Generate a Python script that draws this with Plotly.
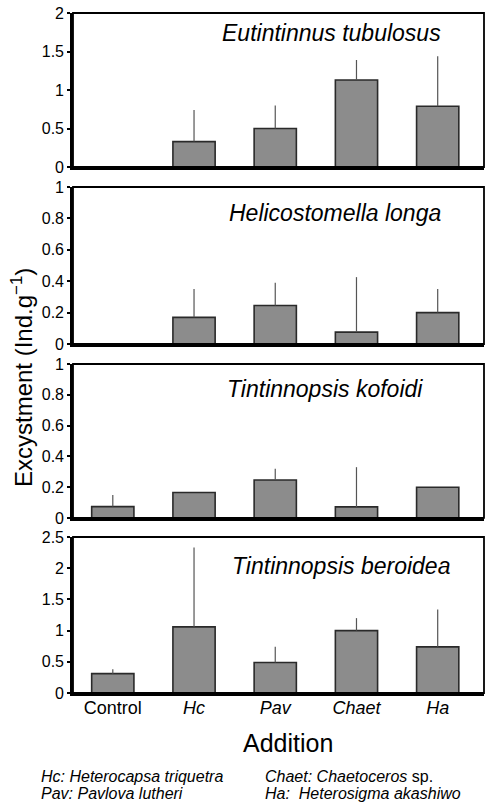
import plotly.graph_objects as go

categories = ["Control", "Hc", "Pav", "Chaet", "Ha"]
tick_labels = ["Control", "<i>Hc</i>", "<i>Pav</i>", "<i>Chaet</i>", "<i>Ha</i>"]
species = ["Eutintinnus tubulosus", "Helicostomella longa",
           "Tintinnopsis kofoidi", "Tintinnopsis beroidea"]

e_tubulosus_mean = [0.0, 0.33, 0.50, 1.13, 0.79]
e_tubulosus_err = [0.0, 0.41, 0.30, 0.26, 0.65]
h_longa_mean = [0.0, 0.17, 0.245, 0.076, 0.20]
h_longa_err = [0.0, 0.18, 0.145, 0.35, 0.15]
t_kofoidi_mean = [0.074, 0.165, 0.247, 0.072, 0.20]
t_kofoidi_err = [0.076, 0.0, 0.073, 0.258, 0.0]
t_beroidea_mean = [0.31, 1.06, 0.49, 1.00, 0.74]
t_beroidea_err = [0.07, 1.27, 0.25, 0.20, 0.60]

means = [e_tubulosus_mean, h_longa_mean, t_kofoidi_mean, t_beroidea_mean]
errs = [e_tubulosus_err, h_longa_err, t_kofoidi_err, t_beroidea_err]
y_ranges = [[0, 2], [0, 1], [0, 1], [0, 2.5]]
y_dtick = [0.5, 0.2, 0.2, 0.5]
domains = [[0.7735, 1.0], [0.5132, 0.7441], [0.2574, 0.4838], [0.0, 0.2294]]
title_pos = [(0.900, 0.9706), (0.900, 0.7059), (0.856, 0.447), (0.922, 0.1868)]

FONT = "Liberation Sans, Arial, Helvetica, sans-serif"

fig = go.Figure()
layout = dict(
    width=488, height=804,
    margin=dict(l=73, r=4, t=13, b=111, autoexpand=False),
    paper_bgcolor="white", plot_bgcolor="white",
    showlegend=False, font=dict(family=FONT, color="black"),
)
shapes = []
annotations = []
for i in range(4):
    n = "" if i == 0 else str(i + 1)
    xa = "x" + n
    ya = "y" + n
    fig.add_trace(go.Bar(
        x=list(range(len(categories))), y=means[i],
        xaxis=xa, yaxis=ya, width=0.52,
        marker=dict(color="#8c8c8c", line=dict(color="#2a2a2a", width=1.6)),
        error_y=dict(type="data", array=errs[i], arrayminus=[0] * 5,
                     symmetric=False, color="#555555", thickness=1.2, width=0),
    ))
    layout["xaxis" + n] = dict(
        domain=[0, 1], anchor=ya, range=[-0.49, 4.57], automargin=False,
        tickmode="array", tickvals=list(range(5)),
        ticktext=tick_labels if i == 3 else [""] * 5,
        showticklabels=(i == 3), ticks="", showgrid=False, zeroline=False,
        showline=True, linecolor="black", linewidth=2.6,
        tickfont=dict(size=18, family=FONT), ticklabelstandoff=-3,
    )
    layout["yaxis" + n] = dict(
        domain=domains[i], anchor=xa, range=y_ranges[i], dtick=y_dtick[i],
        tick0=0, showgrid=False, zeroline=False, automargin=False,
        showline=True, linecolor="black", linewidth=2.6,
        ticks="outside", ticklen=3, tickwidth=1.5, tickcolor="black",
        tickfont=dict(size=16, family=FONT),
    )
    shapes.append(dict(type="rect", xref=xa + " domain", yref=ya + " domain",
                       x0=0, x1=1, y0=0, y1=1, line=dict(color="black", width=1.8)))
    tx, ty = title_pos[i]
    annotations.append(dict(text="<i>" + species[i] + "</i>", xref="paper", yref="paper",
                            x=tx, y=ty, xanchor="right", yanchor="middle",
                            showarrow=False, font=dict(size=23, family=FONT)))

foot_font = dict(size=16, family=FONT)
annotations += [
    dict(text="Excystment (Ind.g<sup>−1</sup>)", xref="paper", yref="paper",
         x=(22 - 73) / 411, y=(693 - 378) / 680, textangle=-90, xanchor="center",
         yanchor="middle", showarrow=False, font=dict(size=24, family=FONT)),
    dict(text="Addition", xref="paper", yref="paper", x=(288 - 73) / 411,
         y=(693 - 743) / 680, xanchor="center", yanchor="middle", showarrow=False,
         font=dict(size=25, family=FONT)),
    dict(text="<i>Hc: Heterocapsa triquetra</i>", xref="paper", yref="paper",
         x=(40 - 73) / 411, y=(693 - 776) / 680, xanchor="left", yanchor="middle",
         showarrow=False, borderpad=0, font=foot_font),
    dict(text="<i>Pav: Pavlova lutheri</i>", xref="paper", yref="paper",
         x=(40 - 73) / 411, y=(693 - 793.5) / 680, xanchor="left", yanchor="middle",
         showarrow=False, borderpad=0, font=foot_font),
    dict(text="<i>Chaet: Chaetoceros</i> sp.", xref="paper", yref="paper",
         x=(264 - 73) / 411, y=(693 - 776) / 680, xanchor="left", yanchor="middle",
         showarrow=False, borderpad=0, font=foot_font),
    dict(text="<i>Ha:  Heterosigma akashiwo</i>", xref="paper", yref="paper",
         x=(264 - 73) / 411, y=(693 - 793.5) / 680, xanchor="left", yanchor="middle",
         showarrow=False, borderpad=0, font=foot_font),
]
layout["shapes"] = shapes
layout["annotations"] = annotations
fig.update_layout(**layout)
fig.write_html("out.html", config={"displayModeBar": False},
               post_script="document.body.style.margin='0px';"
                           "document.body.style.overflow='hidden';")
